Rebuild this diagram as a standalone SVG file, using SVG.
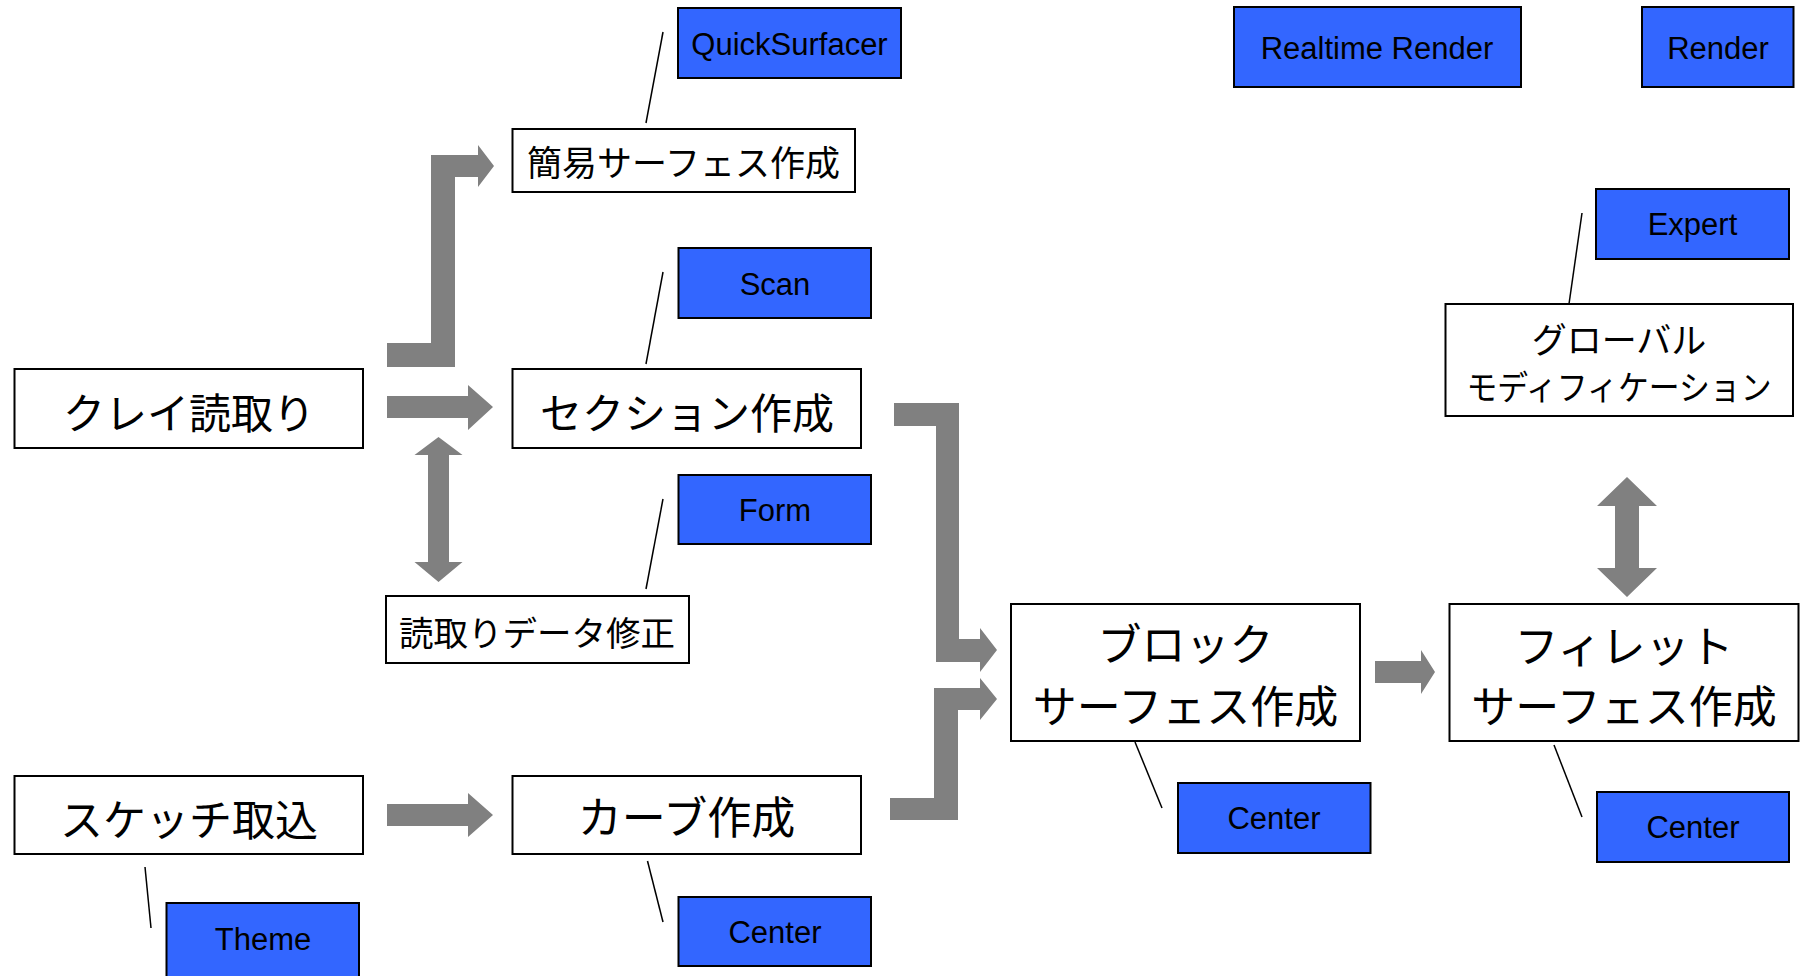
<svg xmlns="http://www.w3.org/2000/svg" width="1802" height="976" viewBox="0 0 1802 976">
<style>
.bg{fill:#ffffff}
.box{fill:#ffffff;stroke:#000000;stroke-width:2}
.tag{fill:#3366ff;stroke:#000000;stroke-width:2}
.arr{fill:#808080;stroke:none}
.lead{stroke:#000000;stroke-width:1.5;fill:none}
.jp{font-family:"Noto Sans CJK JP","Noto Sans CJK SC",sans-serif;fill:#000000;text-anchor:middle}
.en{font-family:"Liberation Sans",Arial,sans-serif;font-size:31px;fill:#000000;text-anchor:middle}
</style>
<rect class="bg" x="0" y="0" width="1802" height="976"/>

<g id="connectors">
  <polygon class="arr" points="387,343 431,343 431,155 478,155 478,145 494,166 478,187 478,177 455,177 455,367 387,367"/>
  <polygon class="arr" points="387,396 468,396 468,385 493,407 468,430 468,418 387,418"/>
  <polygon class="arr" points="438.5,437 462.5,455 449,455 449,562 462.5,562 438.5,582 414.5,562 428,562 428,455 414.5,455"/>
  <polygon class="arr" points="387,804 468,804 468,793 493,815 468,837 468,826 387,826"/>
  <polygon class="arr" points="894,403 959,403 959,639 980,639 980,628 997,650 980,672 980,662 936,662 936,426 894,426"/>
  <polygon class="arr" points="890,798 934,798 934,688 980,688 980,678 997,699 980,720 980,710 958,710 958,820 890,820"/>
  <polygon class="arr" points="1375,661 1421,661 1421,650 1435,672 1421,694 1421,683 1375,683"/>
  <polygon class="arr" points="1627,477 1657,506 1639,506 1639,568 1657,568 1627,597 1597,568 1615,568 1615,506 1597,506"/>
  <line class="lead" x1="663" y1="32" x2="646" y2="123"/>
  <line class="lead" x1="663" y1="272" x2="646" y2="364"/>
  <line class="lead" x1="663" y1="499" x2="646" y2="589"/>
  <line class="lead" x1="145" y1="867" x2="151" y2="928"/>
  <line class="lead" x1="647.5" y1="861" x2="663" y2="922"/>
  <line class="lead" x1="1135" y1="742" x2="1162" y2="808"/>
  <line class="lead" x1="1554" y1="745" x2="1582" y2="817"/>
  <line class="lead" x1="1582" y1="213" x2="1569" y2="304"/>
</g>

<g id="quicksurfacer"><rect class="tag" x="678" y="8" width="223" height="70"/><text class="en" x="789.5" y="55">QuickSurfacer</text></g>
<g id="realtime-render"><rect class="tag" x="1234" y="7" width="287" height="80"/><text class="en" x="1377" y="59">Realtime Render</text></g>
<g id="render"><rect class="tag" x="1642" y="7" width="151.5" height="80"/><text class="en" x="1718" y="59">Render</text></g>
<g id="scan"><rect class="tag" x="678.5" y="248" width="192.5" height="70"/><text class="en" x="775" y="295">Scan</text></g>
<g id="expert"><rect class="tag" x="1596" y="189" width="193" height="70"/><text class="en" x="1692.5" y="235">Expert</text></g>
<g id="form"><rect class="tag" x="678.5" y="475" width="192.5" height="69"/><text class="en" x="775" y="521">Form</text></g>
<g id="theme"><rect class="tag" x="166.5" y="903" width="192.5" height="74"/><text class="en" x="263" y="950">Theme</text></g>
<g id="center-curve"><rect class="tag" x="678.5" y="897" width="192.5" height="69"/><text class="en" x="775" y="943">Center</text></g>
<g id="center-block"><rect class="tag" x="1178" y="783" width="192.5" height="70"/><text class="en" x="1274" y="829">Center</text></g>
<g id="center-fillet"><rect class="tag" x="1597" y="792" width="192" height="70"/><text class="en" x="1693" y="838">Center</text></g>

<g id="quick-surface"><rect class="box" x="512.5" y="129" width="342.5" height="63"/><text class="jp" x="683.5" y="176" font-size="35">簡易サーフェス作成</text></g>
<g id="clay-read"><rect class="box" x="14.5" y="369" width="348.5" height="79"/><text class="jp" x="189" y="429" font-size="42">クレイ読取り</text></g>
<g id="section"><rect class="box" x="512.5" y="369" width="348.5" height="79"/><text class="jp" x="687" y="428.5" font-size="42">セクション作成</text></g>
<g id="data-fix"><rect class="box" x="386" y="596" width="303" height="67"/><text class="jp" x="537" y="645.5" font-size="34.5">読取りデータ修正</text></g>
<g id="sketch"><rect class="box" x="14.5" y="776" width="348.5" height="78"/><text class="jp" x="189" y="835.5" font-size="43">スケッチ取込</text></g>
<g id="curve"><rect class="box" x="512.5" y="776" width="348.5" height="78"/><text class="jp" x="686.5" y="834" font-size="44">カーブ作成</text></g>
<g id="block-surface"><rect class="box" x="1011" y="604" width="349" height="137"/><text class="jp" x="1185.5" y="661" font-size="44">ブロック</text><text class="jp" x="1185.5" y="723" font-size="44">サーフェス作成</text></g>
<g id="fillet-surface"><rect class="box" x="1449.5" y="604" width="349" height="137"/><text class="jp" x="1624" y="663" font-size="44">フィレット</text><text class="jp" x="1624" y="723" font-size="44">サーフェス作成</text></g>
<g id="global-mod"><rect class="box" x="1445.5" y="304" width="347.5" height="112"/><text class="jp" x="1619" y="353" font-size="35">グローバル</text><text class="jp" x="1619" y="399.5" font-size="34" textLength="305" lengthAdjust="spacingAndGlyphs">モディフィケーション</text></g>
</svg>
